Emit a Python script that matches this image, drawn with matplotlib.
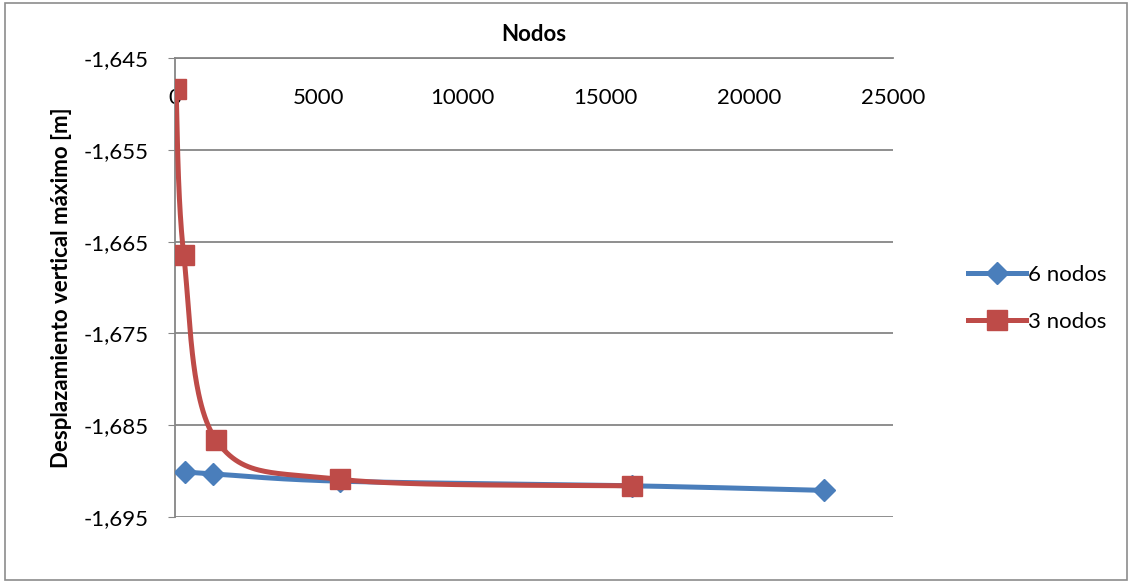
import numpy as np
import matplotlib.pyplot as plt
from matplotlib.ticker import FuncFormatter
from matplotlib.patches import Rectangle

plt.rcParams['font.family'] = ['Lato', 'DejaVu Sans']

# data
nodos_6 = [350, 1320, 5750, 15900, 22600]
desp_6 = [-1.6901, -1.6903, -1.6911, -1.6916, -1.6921]
nodos_3 = [40, 310, 1430, 5750, 15900]
desp_3 = [-1.6484, -1.6665, -1.6866, -1.6909, -1.6916]

x_ticks = [0, 5000, 10000, 15000, 20000, 25000]
y_ticks = [-1.645, -1.655, -1.665, -1.675, -1.685, -1.695]

blue = '#4A7EBB'
red = '#BE4B48'
grid_c = '#868686'


def smooth(ax, xs, ys, n=60):
    # Catmull-Rom style smoothing in display space, like Excel's smoothed line
    pts = ax.transData.transform(np.column_stack([xs, ys]))
    p = np.vstack([pts[0], pts, pts[-1]])
    out = []
    for i in range(1, len(p) - 2):
        p0, p1, p2, p3 = p[i - 1], p[i], p[i + 1], p[i + 2]
        t = np.linspace(0, 1, n)[:, None]
        c1 = p1 + (p2 - p0) / 6
        c2 = p2 - (p3 - p1) / 6
        b = ((1 - t) ** 3) * p1 + 3 * ((1 - t) ** 2) * t * c1 + 3 * (1 - t) * t ** 2 * c2 + t ** 3 * p2
        out.append(b)
    out = np.vstack(out)
    return ax.transData.inverted().transform(out)


fig = plt.figure(figsize=(11.32, 5.83), dpi=100)
fig.patches.append(Rectangle((0.004, 0.006), 0.992, 0.988, transform=fig.transFigure,
                             fill=False, edgecolor='#8c8c8c', linewidth=1.2))
ax = fig.add_axes([0.1545, 0.1132, 0.6345, 0.7873])

ax.set_xlim(0, 25000)
ax.set_ylim(-1.695, -1.645)
ax.set_xticks(x_ticks)
ax.set_yticks(y_ticks)
ax.yaxis.set_major_formatter(FuncFormatter(lambda v, p: f"{v:.3f}".replace('.', ',')))

ax.xaxis.tick_top()
ax.tick_params(axis='x', length=0, pad=-36, labelsize=16)
ax.tick_params(axis='y', length=5, color=grid_c, labelsize=16, pad=14)

ax.grid(axis='y', color=grid_c, linewidth=1.3)
ax.set_axisbelow(True)
for s in ['right', 'bottom']:
    ax.spines[s].set_visible(False)
for s in ['left', 'top']:
    ax.spines[s].set_color(grid_c)
    ax.spines[s].set_linewidth(1.3)

fig.canvas.draw()
sb = smooth(ax, nodos_6, desp_6)
sr = smooth(ax, nodos_3, desp_3)

ax.plot(sb[:, 0], sb[:, 1], color=blue, linewidth=3.6, solid_capstyle='round', zorder=3)
ax.plot(nodos_6, desp_6, linestyle='none', marker='D', markersize=11, color=blue, zorder=4)
ax.plot(sr[:, 0], sr[:, 1], color=red, linewidth=3.6, solid_capstyle='round', zorder=5)
ax.plot(nodos_3, desp_3, linestyle='none', marker='s', markersize=14, color=red, zorder=6)

# legend handles
ax.plot([], [], color=blue, linewidth=3.6, marker='D', markersize=11, label='6 nodos')
ax.plot([], [], color=red, linewidth=3.6, marker='s', markersize=14, label='3 nodos')
h, l = ax.get_legend_handles_labels()
ax.legend(h, l, loc='center left', bbox_to_anchor=(1.077, 0.477), frameon=False,
          fontsize=16, handlelength=2.6, handletextpad=0.1, labelspacing=1.22)

ax.set_title('Nodos', fontsize=16, fontweight='bold', pad=12)
ax.set_ylabel('Desplazamiento vertical máximo [m]', fontsize=16, fontweight='bold', labelpad=8)

fig.savefig('out.png', dpi=100)
